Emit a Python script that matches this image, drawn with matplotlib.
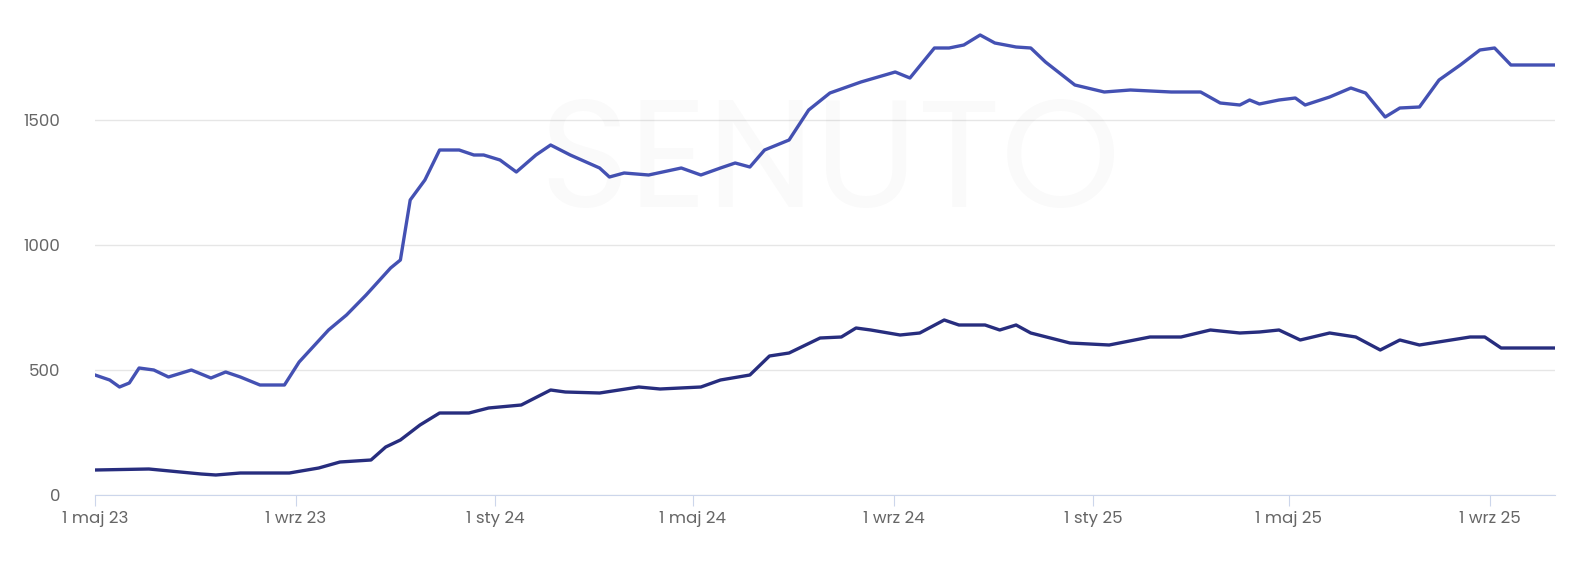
import datetime as dt

import matplotlib.pyplot as plt
import matplotlib.dates as mdates

START = dt.date(2023, 5, 1)

# day offsets from 1 May 2023 and values
upper_days = [0, 9, 15, 21, 27, 36, 45, 59, 71, 80, 89, 101, 116, 125, 143, 154, 166, 181, 187, 193,
              202, 211, 223, 232, 238, 248, 258, 270, 279, 291, 309, 315, 324, 339, 359, 371, 383, 392,
              401, 410, 425, 437, 450, 469, 490, 499, 514, 523, 532, 542, 551, 564, 573, 582, 600, 618,
              634, 659, 677, 689, 701, 707, 713, 725, 735, 741, 756, 769, 778, 790, 799, 811, 823, 836,
              848, 857, 867, 894]
upper_vals = [480, 460, 432, 448, 508, 500, 472, 500, 468, 492, 472, 440, 440, 532, 660, 720, 800, 908,
              940, 1180, 1260, 1380, 1380, 1360, 1360, 1340, 1292, 1360, 1400, 1360, 1308, 1272, 1288,
              1280, 1308, 1280, 1308, 1328, 1312, 1380, 1420, 1540, 1608, 1652, 1692, 1668, 1788, 1788,
              1800, 1840, 1808, 1792, 1788, 1732, 1640, 1612, 1620, 1612, 1612, 1568, 1560, 1580, 1564,
              1580, 1588, 1560, 1592, 1628, 1608, 1512, 1548, 1552, 1660, 1720, 1780, 1788, 1720, 1720]

lower_days = [0, 33, 65, 74, 89, 119, 137, 150, 169, 178, 187, 199, 211, 229, 241, 261, 279, 288, 309,
              321, 333, 346, 371, 383, 401, 413, 425, 444, 457, 466, 475, 493, 505, 520, 529, 545, 554,
              564, 573, 597, 621, 646, 665, 683, 701, 713, 725, 738, 756, 772, 787, 799, 811, 842, 851,
              861, 894]
lower_vals = [100, 104, 84, 80, 88, 88, 108, 132, 140, 192, 220, 280, 328, 328, 348, 360, 420, 412, 408,
              420, 432, 424, 432, 460, 480, 556, 568, 628, 632, 668, 660, 640, 648, 700, 680, 680, 660,
              680, 648, 608, 600, 632, 632, 660, 648, 652, 660, 620, 648, 632, 580, 620, 600, 632, 632,
              588, 588]

tick_dates = [dt.date(2023, 5, 1), dt.date(2023, 9, 1), dt.date(2024, 1, 1), dt.date(2024, 5, 1),
              dt.date(2024, 9, 1), dt.date(2025, 1, 1), dt.date(2025, 5, 1), dt.date(2025, 9, 1)]
tick_labels = ["1 maj 23", "1 wrz 23", "1 sty 24", "1 maj 24", "1 wrz 24", "1 sty 25", "1 maj 25", "1 wrz 25"]
y_ticks = [0, 500, 1000, 1500]

plt.rcParams['font.family'] = ['Poppins', 'Open Sans', 'DejaVu Sans']

def to_dates(days):
    return [START + dt.timedelta(days=d) for d in days]

fig = plt.figure(figsize=(15.96, 5.68), dpi=100)
ax = fig.add_axes([95 / 1596, 73 / 568, 1460 / 1596, 475 / 568])

fig.text(0.52, 0.7, "SENUTO", fontsize=110, color="#000000", alpha=0.02,
         ha="center", va="center")

ax.plot(to_dates(upper_days), upper_vals, color="#4451b3", lw=2.4, solid_joinstyle="round")
ax.plot(to_dates(lower_days), lower_vals, color="#272d7e", lw=2.4, solid_joinstyle="round")

ax.set_xlim(START, START + dt.timedelta(days=894))
ax.set_ylim(0, 1900)
ax.set_yticks(y_ticks)
ax.set_yticklabels([str(v) for v in y_ticks])
ax.set_xticks([mdates.date2num(d) for d in tick_dates])
ax.set_xticklabels(tick_labels)
ax.grid(axis="y", color="#e6e6e6", lw=1)
ax.set_axisbelow(True)
for s in ["top", "right", "left"]:
    ax.spines[s].set_visible(False)
ax.spines["bottom"].set_color("#ccd6eb")
ax.tick_params(axis="y", length=0, pad=25, labelsize=12, labelcolor="#666666")
ax.tick_params(axis="x", length=8, color="#ccd6eb", labelsize=12, labelcolor="#666666")

fig.savefig("out.png", dpi=100)
